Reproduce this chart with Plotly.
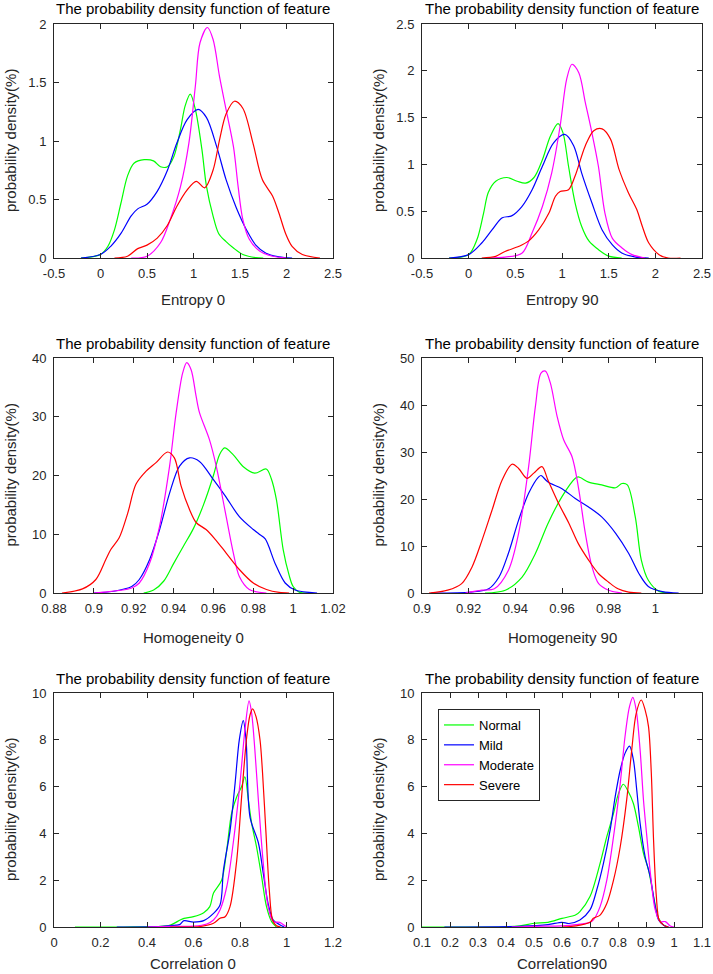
import plotly.graph_objects as go

W, H = 713, 974
FONT = "Liberation Sans, Arial, sans-serif"
TXT = "#262626"

series_names = ["Normal", "Mild", "Moderate", "Severe"]
series_colors = ["#00ff00", "#0000ff", "#ff00ff", "#ff0000"]

title_text = "The probability density function of feature"
ylabel_text = "probability density(%)"
xlabels = ["Entropy 0", "Entropy 90", "Homogeneity 0", "Homogeneity 90", "Correlation 0", "Correlation90"]

# ---------------- Entropy 0 ----------------
e0_normal_x = [-0.21, 0.0, 0.08, 0.15, 0.22, 0.29, 0.36, 0.47, 0.57, 0.645, 0.72, 0.79, 0.86, 0.91, 0.965, 1.02, 1.09, 1.14, 1.21, 1.27, 1.35, 1.43, 1.53, 1.67, 1.75]
e0_normal_y = [0, 0.03, 0.1, 0.24, 0.47, 0.70, 0.81, 0.84, 0.83, 0.78, 0.78, 0.87, 1.1, 1.3, 1.40, 1.27, 0.93, 0.61, 0.36, 0.21, 0.14, 0.085, 0.03, 0.003, 0]
e0_mild_x = [-0.21, 0.0, 0.11, 0.22, 0.33, 0.4, 0.5, 0.61, 0.72, 0.82, 0.93, 1.05, 1.14, 1.25, 1.35, 1.46, 1.57, 1.67, 1.78, 1.92, 2.06]
e0_mild_y = [0, 0.03, 0.1, 0.21, 0.36, 0.42, 0.46, 0.57, 0.75, 0.98, 1.18, 1.27, 1.20, 0.95, 0.67, 0.43, 0.24, 0.11, 0.04, 0.01, 0]
e0_moderate_x = [0.33, 0.5, 0.645, 0.75, 0.86, 0.95, 1.02, 1.07, 1.15, 1.21, 1.28, 1.35, 1.43, 1.48, 1.53, 1.6, 1.71, 1.85, 2.0]
e0_moderate_y = [0, 0.015, 0.13, 0.33, 0.61, 0.98, 1.47, 1.84, 1.97, 1.87, 1.55, 1.27, 0.95, 0.61, 0.33, 0.16, 0.06, 0.015, 0]
e0_severe_x = [0.15, 0.29, 0.4, 0.5, 0.61, 0.72, 0.82, 0.93, 1.03, 1.12, 1.21, 1.28, 1.35, 1.44, 1.53, 1.64, 1.74, 1.85, 1.92, 1.99, 2.06, 2.17, 2.36]
e0_severe_y = [0, 0.015, 0.08, 0.11, 0.17, 0.28, 0.44, 0.58, 0.655, 0.6, 0.75, 1.01, 1.23, 1.34, 1.28, 0.98, 0.67, 0.53, 0.38, 0.21, 0.1, 0.03, 0]

# ---------------- Entropy 90 ----------------
e90_normal_x = [-0.21, 0.0, 0.09, 0.16, 0.21, 0.29, 0.41, 0.52, 0.61, 0.7, 0.79, 0.875, 0.957, 1.01, 1.07, 1.14, 1.21, 1.29, 1.39, 1.5, 1.64]
e90_normal_y = [0, 0.036, 0.2, 0.48, 0.7, 0.82, 0.86, 0.82, 0.80, 0.86, 1.05, 1.3, 1.436, 1.34, 0.98, 0.59, 0.34, 0.18, 0.09, 0.02, 0]
e90_mild_x = [-0.21, 0.0, 0.14, 0.25, 0.36, 0.46, 0.57, 0.68, 0.79, 0.91, 1.03, 1.125, 1.21, 1.32, 1.43, 1.54, 1.64, 1.79, 1.93]
e90_mild_y = [0, 0.036, 0.16, 0.3, 0.43, 0.45, 0.55, 0.73, 0.98, 1.23, 1.32, 1.2, 0.91, 0.59, 0.3, 0.14, 0.054, 0.01, 0]
e90_moderate_x = [0.21, 0.39, 0.57, 0.68, 0.79, 0.89, 0.98, 1.05, 1.107, 1.18, 1.25, 1.32, 1.39, 1.46, 1.54, 1.64, 1.75, 1.89]
e90_moderate_y = [0, 0.01, 0.05, 0.27, 0.55, 0.91, 1.41, 1.91, 2.07, 1.98, 1.66, 1.34, 0.98, 0.48, 0.21, 0.11, 0.036, 0]
e90_severe_x = [0.14, 0.29, 0.39, 0.54, 0.64, 0.75, 0.86, 0.93, 0.98, 1.07, 1.14, 1.25, 1.34, 1.43, 1.52, 1.61, 1.71, 1.8, 1.86, 1.93, 2.04, 2.14, 2.27]
e90_severe_y = [0, 0.018, 0.07, 0.125, 0.18, 0.3, 0.48, 0.66, 0.71, 0.73, 0.875, 1.2, 1.36, 1.38, 1.27, 0.95, 0.7, 0.52, 0.34, 0.16, 0.036, 0, 0]

# ---------------- Homogeneity 0 ----------------
h0_normal_x = [0.925, 0.93, 0.935, 0.94, 0.945, 0.95, 0.955, 0.96, 0.963, 0.9656, 0.97, 0.975, 0.9807, 0.9865, 0.989, 0.9916, 0.995, 0.998, 1.0, 1.0033, 1.008]
h0_normal_y = [0, 0.5, 2, 5, 8, 11, 15, 20, 23.5, 24.7, 23.5, 21.5, 20.4, 21.1, 19.5, 15.9, 7.4, 3, 1.1, 0.1, 0]
h0_mild_x = [0.9, 0.91, 0.919, 0.9228, 0.928, 0.933, 0.938, 0.943, 0.948, 0.953, 0.96, 0.966, 0.973, 0.98, 0.983, 0.986, 0.991, 0.996, 1.001, 1.012]
h0_mild_y = [0, 0.3, 1.1, 2.3, 5.7, 10.8, 17, 21.6, 23, 22.4, 19.3, 16.5, 13, 10.8, 10, 9.2, 5, 1.7, 0.5, 0]
h0_moderate_x = [0.9, 0.919, 0.9228, 0.928, 0.933, 0.938, 0.9413, 0.9446, 0.9466, 0.9488, 0.9513, 0.953, 0.958, 0.9614, 0.9664, 0.97, 0.973, 0.978, 0.9866]
h0_moderate_y = [0, 0.85, 1.7, 5.1, 11.4, 21.6, 30.7, 37.5, 39.2, 38, 33.5, 30.7, 26.1, 21.6, 13, 6.8, 2.8, 0.6, 0]
h0_severe_x = [0.884, 0.8943, 0.901, 0.906, 0.9085, 0.9127, 0.917, 0.9211, 0.9261, 0.9312, 0.937, 0.9404, 0.9438, 0.948, 0.9513, 0.9563, 0.961, 0.9664, 0.973, 0.98, 0.9866, 0.993, 0.998]
h0_severe_y = [0, 0.7, 2.3, 5.7, 7.4, 9.4, 13.6, 18.5, 20.7, 22.2, 24.0, 23.0, 18.2, 14.2, 12.0, 10.8, 9.1, 6.8, 4.0, 1.7, 0.6, 0.1, 0]

# ---------------- Homogeneity 90 ----------------
h90_normal_x = [0.927, 0.9357, 0.9429, 0.9486, 0.954, 0.96, 0.9657, 0.967, 0.9714, 0.977, 0.983, 0.9857, 0.988, 0.9914, 0.994, 0.997, 1.0014, 1.007]
h90_normal_y = [0, 0.6, 3.4, 8.4, 14.8, 20.5, 24.4, 24.7, 23.6, 23, 22.4, 23.3, 23, 16.2, 7, 2.7, 0.4, 0]
h90_mild_x = [0.904, 0.921, 0.9286, 0.933, 0.937, 0.9414, 0.9457, 0.95, 0.951, 0.954, 0.96, 0.9657, 0.9714, 0.977, 0.983, 0.9886, 0.993, 0.997, 1.003, 1.01]
h90_mild_y = [0, 0.2, 0.9, 3.4, 8.4, 15.5, 21.2, 24.7, 25, 23.6, 22.2, 20.1, 18.3, 16.2, 12.7, 8.4, 4.1, 1.4, 0.3, 0]
h90_moderate_x = [0.9186, 0.9257, 0.931, 0.937, 0.9414, 0.9457, 0.9486, 0.951, 0.9529, 0.955, 0.9579, 0.9607, 0.9643, 0.967, 0.97, 0.9729, 0.9757, 0.98, 0.9857]
h90_moderate_y = [0, 0.6, 0.9, 4.8, 12.7, 26.9, 39.7, 46.8, 47.2, 44.7, 37.6, 32.6, 29, 22.6, 12.7, 5.5, 2, 0.6, 0]
h90_severe_x = [0.903, 0.911, 0.917, 0.9214, 0.9257, 0.93, 0.9343, 0.9386, 0.9414, 0.945, 0.9479, 0.9514, 0.954, 0.9586, 0.963, 0.967, 0.9714, 0.9757, 0.98, 0.984, 0.9886, 0.994]
h90_severe_y = [0, 0.6, 2, 5.5, 11.2, 17.6, 24, 27.4, 26.5, 24.4, 25.5, 26.9, 24, 19, 14.8, 10.5, 7, 4.1, 2.3, 0.9, 0.2, 0]

# ---------------- Correlation 0 ----------------
c0_normal_x = [0.09, 0.3, 0.45, 0.5, 0.543, 0.559, 0.6, 0.644, 0.67, 0.686, 0.721, 0.743, 0.764, 0.786, 0.807, 0.821, 0.836, 0.85, 0.871, 0.893, 0.914, 0.936, 0.957]
c0_normal_y = [0, 0, 0.02, 0.08, 0.3, 0.37, 0.44, 0.61, 0.87, 1.45, 2.0, 3.3, 4.87, 5.57, 6.0, 6.42, 5.43, 4.44, 3.43, 2.15, 0.87, 0.23, 0]
c0_mild_x = [0.27, 0.45, 0.5, 0.54, 0.559, 0.6, 0.644, 0.686, 0.714, 0.729, 0.757, 0.779, 0.797, 0.814, 0.826, 0.843, 0.879, 0.9, 0.921, 0.943, 0.971, 0.99]
c0_mild_y = [0, 0.02, 0.06, 0.1, 0.27, 0.21, 0.27, 0.58, 0.94, 2.44, 4.1, 6.15, 8.0, 8.82, 8.0, 4.7, 3.6, 2.3, 1.0, 0.3, 0.1, 0]
c0_moderate_x = [0.4, 0.5, 0.6, 0.657, 0.686, 0.714, 0.743, 0.771, 0.8, 0.821, 0.839, 0.85, 0.864, 0.879, 0.9, 0.921, 0.943, 0.971, 0.993, 1.0]
c0_moderate_y = [0, 0.03, 0.04, 0.13, 0.3, 0.73, 1.72, 3.6, 6.15, 8.4, 9.66, 9.14, 7.56, 5.43, 2.73, 0.87, 0.23, 0.2, 0.05, 0]
c0_severe_x = [0.5, 0.629, 0.686, 0.714, 0.736, 0.757, 0.786, 0.807, 0.829, 0.843, 0.854, 0.869, 0.886, 0.897, 0.911, 0.926, 0.94, 0.957, 0.975]
c0_severe_y = [0, 0.02, 0.16, 0.37, 0.44, 0.87, 2.86, 5.57, 8.13, 9.06, 9.32, 8.99, 8.0, 6.58, 4.15, 1.58, 0.3, 0.05, 0]

# ---------------- Correlation 90 ----------------
c90_normal_x = [0.1, 0.4, 0.45, 0.5, 0.55, 0.6, 0.648, 0.664, 0.7, 0.736, 0.76, 0.784, 0.802, 0.819, 0.837, 0.855, 0.873, 0.891, 0.909, 0.927, 0.945, 0.963, 0.98]
c90_normal_y = [0, 0.01, 0.05, 0.16, 0.2, 0.37, 0.51, 0.66, 1.3, 2.72, 3.86, 4.86, 5.71, 6.1, 5.78, 5.28, 4.29, 3.15, 2.44, 1.3, 0.37, 0.08, 0]
c90_mild_x = [0.18, 0.45, 0.55, 0.6, 0.625, 0.664, 0.7, 0.724, 0.748, 0.772, 0.79, 0.808, 0.825, 0.841, 0.855, 0.867, 0.879, 0.897, 0.915, 0.933, 0.945, 0.963, 0.98]
c90_mild_y = [0, 0.03, 0.1, 0.2, 0.15, 0.3, 0.73, 1.58, 2.72, 4.15, 5.57, 6.71, 7.42, 7.73, 7.14, 5.85, 4.43, 3.0, 2.15, 0.87, 0.3, 0.08, 0]
c90_moderate_x = [0.42, 0.5, 0.6, 0.65, 0.7, 0.712, 0.736, 0.76, 0.784, 0.808, 0.825, 0.841, 0.853, 0.865, 0.879, 0.891, 0.903, 0.917, 0.933, 0.951, 0.969, 0.987, 1.0]
c90_moderate_y = [0, 0.03, 0.05, 0.1, 0.2, 0.3, 0.87, 2.0, 3.86, 6.14, 8.13, 9.42, 9.81, 9.27, 7.56, 5.43, 3.86, 2.15, 0.73, 0.23, 0.23, 0.04, 0]
c90_severe_x = [0.6, 0.65, 0.7, 0.712, 0.736, 0.76, 0.784, 0.808, 0.831, 0.849, 0.865, 0.883, 0.897, 0.909, 0.919, 0.927, 0.937, 0.947, 0.963, 0.98]
c90_severe_y = [0, 0.05, 0.2, 0.37, 0.51, 1.0, 2.0, 3.43, 5.43, 7.56, 9.13, 9.7, 9.27, 8.56, 6.57, 3.72, 1.3, 0.3, 0.08, 0]

# ---------------- tick labels ----------------
entropy_ticks = [-0.5, 0, 0.5, 1, 1.5, 2, 2.5]
entropy_ticktext = ["-0.5", "0", "0.5", "1", "1.5", "2", "2.5"]
h0_ticks = [0.88, 0.9, 0.92, 0.94, 0.96, 0.98, 1.0, 1.02]
h0_ticktext = ["0.88", "0.9", "0.92", "0.94", "0.96", "0.98", "1", "1.02"]
h90_ticks = [0.9, 0.92, 0.94, 0.96, 0.98, 1.0, 1.02]
h90_ticktext = ["0.9", "0.92", "0.94", "0.96", "0.98", "1", "1.02"]
c0_ticks = [0, 0.2, 0.4, 0.6, 0.8, 1.0, 1.2]
c0_ticktext = ["0", "0.2", "0.4", "0.6", "0.8", "1", "1.2"]
c90_ticks = [0.1, 0.2, 0.3, 0.4, 0.5, 0.6, 0.7, 0.8, 0.9, 1.0, 1.1]
c90_ticktext = ["0.1", "0.2", "0.3", "0.4", "0.5", "0.6", "0.7", "0.8", "0.9", "1", "1.1"]

panels = [
    dict(data=[(e0_normal_x, e0_normal_y), (e0_mild_x, e0_mild_y), (e0_moderate_x, e0_moderate_y), (e0_severe_x, e0_severe_y)],
         xr=[-0.5, 2.5], xt=(entropy_ticks, entropy_ticktext), yr=[0, 2], dy=0.5),
    dict(data=[(e90_normal_x, e90_normal_y), (e90_mild_x, e90_mild_y), (e90_moderate_x, e90_moderate_y), (e90_severe_x, e90_severe_y)],
         xr=[-0.5, 2.5], xt=(entropy_ticks, entropy_ticktext), yr=[0, 2.5], dy=0.5),
    dict(data=[(h0_normal_x, h0_normal_y), (h0_mild_x, h0_mild_y), (h0_moderate_x, h0_moderate_y), (h0_severe_x, h0_severe_y)],
         xr=[0.88, 1.02], xt=(h0_ticks, h0_ticktext), yr=[0, 40], dy=10),
    dict(data=[(h90_normal_x, h90_normal_y), (h90_mild_x, h90_mild_y), (h90_moderate_x, h90_moderate_y), (h90_severe_x, h90_severe_y)],
         xr=[0.9, 1.02], xt=(h90_ticks, h90_ticktext), yr=[0, 50], dy=10),
    dict(data=[(c0_normal_x, c0_normal_y), (c0_mild_x, c0_mild_y), (c0_moderate_x, c0_moderate_y), (c0_severe_x, c0_severe_y)],
         xr=[0, 1.2], xt=(c0_ticks, c0_ticktext), yr=[0, 10], dy=2),
    dict(data=[(c90_normal_x, c90_normal_y), (c90_mild_x, c90_mild_y), (c90_moderate_x, c90_moderate_y), (c90_severe_x, c90_severe_y)],
         xr=[0.1, 1.1], xt=(c90_ticks, c90_ticktext), yr=[0, 10], dy=2),
]

# pixel boxes of plot areas
col_px = [(54, 333), (422, 702)]
row_px = [(24, 258), (358, 593), (693, 927)]
xlabel_off = [41, 44, 36]

fig = go.Figure()
layout = dict(
    width=W, height=H, margin=dict(l=0, r=0, t=0, b=0, autoexpand=False),
    paper_bgcolor="white", plot_bgcolor="white",
    font=dict(family=FONT, size=13, color=TXT),
    showlegend=True,
    legend=dict(x=438 / W, y=1 - 709 / H, xanchor="left", yanchor="top",
                bgcolor="white", bordercolor=TXT, borderwidth=1,
                font=dict(family=FONT, size=13, color="#000000"),
                tracegroupgap=0, itemwidth=30),
)
annotations = []

for i, p in enumerate(panels):
    r, c = divmod(i, 2)
    x0, x1 = col_px[c]
    yt, yb = row_px[r]
    k = "" if i == 0 else str(i + 1)
    xa, ya = "x" + k, "y" + k
    for j, (xs, ys) in enumerate(p["data"]):
        fig.add_trace(go.Scatter(
            x=xs, y=ys, mode="lines", name=series_names[j],
            line=dict(color=series_colors[j], width=1.2, shape="spline", smoothing=0.9),
            xaxis=xa, yaxis=ya, showlegend=(i == 5), hoverinfo="skip"))
    common = dict(showline=True, linecolor=TXT, linewidth=1, mirror="ticks",
                  ticks="inside", ticklen=5, tickcolor=TXT, tickwidth=1,
                  showgrid=False, zeroline=False, automargin=False,
                  tickfont=dict(family=FONT, size=13, color=TXT))
    layout["xaxis" + k] = dict(common, domain=[x0 / W, x1 / W], anchor=ya, range=p["xr"],
                               tickmode="array", tickvals=p["xt"][0], ticktext=p["xt"][1],
                               ticklabelstandoff=3)
    layout["yaxis" + k] = dict(common, domain=[1 - yb / H, 1 - yt / H], anchor=xa, range=p["yr"],
                               dtick=p["dy"], tick0=0, ticklabelstandoff=4)
    xc = (x0 + x1) / 2
    annotations.append(dict(text=title_text, x=xc / W, y=1 - (yt - 15) / H, xref="paper", yref="paper",
                            xanchor="center", yanchor="middle", showarrow=False,
                            font=dict(family=FONT, size=15, color="#000000")))
    annotations.append(dict(text=xlabels[i], x=xc / W, y=1 - (yb + xlabel_off[r]) / H, xref="paper", yref="paper",
                            xanchor="center", yanchor="middle", showarrow=False,
                            font=dict(family=FONT, size=15, color=TXT)))
    annotations.append(dict(text=ylabel_text, x=(x0 - 44) / W, y=1 - ((yt + yb) / 2) / H, xref="paper", yref="paper",
                            xanchor="center", yanchor="middle", textangle=-90, showarrow=False,
                            font=dict(family=FONT, size=15, color=TXT)))

layout["annotations"] = annotations
fig.update_layout(**layout)
fig.write_html("out.html", config={"displayModeBar": False},
               post_script="document.documentElement.style.margin='0';document.body.style.margin='0';"
                           "document.body.style.overflow='hidden';document.documentElement.style.overflow='hidden';")
